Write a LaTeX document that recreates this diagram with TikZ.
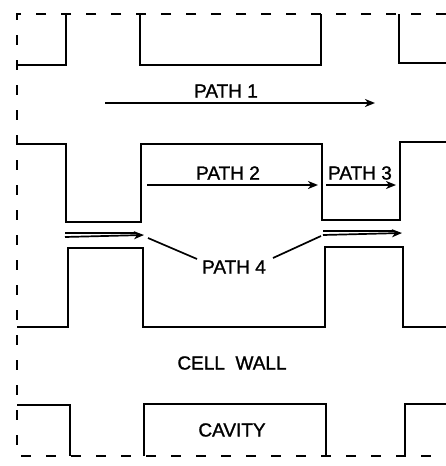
\documentclass[tikz,border=0pt]{standalone}
\usepackage{fontspec}
\setmainfont{Liberation Sans}
\newfontfamily\lblfont{Liberation Sans}[FakeBold=1.2]
\usetikzlibrary{arrows.meta}
\begin{document}
\begin{tikzpicture}[x=1pt,y=-1pt,
  wall/.style={line width=1.8pt, line join=miter},
  frame/.style={line width=1.7pt, dash pattern=on 10pt off 15pt},
  flow/.style={line width=1.7pt, -{Stealth[length=10pt,width=8pt,inset=3pt]}},
  plain/.style={line width=1.7pt},
  lbl/.style={font=\lblfont\fontsize{19}{22}\selectfont, inner sep=0pt}]
\useasboundingbox (0,0) rectangle (446,466);
% frame
\draw[frame] (446,14) -- (17,14) -- (17,456) -- (446,456);
% top row of cavities
\draw[wall] (17,65) -- (66,65) -- (66,14);
\draw[wall] (140,14) -- (140,65) -- (321,65) -- (321,14);
\draw[wall] (399,14) -- (399,63) -- (446,63);
% middle row: cavities joined by pit channels
\draw[wall] (17,144) -- (66,144) -- (66,222) -- (141,222) -- (141,144) -- (322,144) -- (322,220) -- (400,220) -- (400,142) -- (446,142);
\draw[wall] (17,327) -- (68,327) -- (68,248) -- (143,248) -- (143,327) -- (325,327) -- (325,247) -- (403,247) -- (403,327) -- (446,327);
% bottom row
\draw[wall] (17,405) -- (70,405) -- (70,456);
\draw[wall] (144,456) -- (144,404) -- (326,404) -- (326,456);
\draw[wall] (405,456) -- (405,404) -- (446,404);
% labels
\node[lbl] (p1) at (226,91) {PATH 1};
\node[lbl] (p2) at (228,173) {PATH 2};
\node[lbl] (p3) at (360,173) {PATH 3};
\node[lbl] (p4) at (234,267) {PATH 4};
\node[lbl] (cw) at (232,363) {CELL\ \ WALL};
\node[lbl] (cav) at (232,430) {CAVITY};
% path arrows
\coordinate (a1s) at (105,103); \coordinate (a1e) at (375,103);
\draw[flow] (a1s) -- (a1e);
\coordinate (a2s) at (147,185); \coordinate (a2e) at (318,185);
\draw[flow] (a2s) -- (a2e);
\coordinate (a3s) at (326,185); \coordinate (a3e) at (396,185);
\draw[flow] (a3s) -- (a3e);
% pit channel arrows (double lines)
\coordinate (l1s) at (65,233); \coordinate (l1e) at (136,233);
\coordinate (l2s) at (65,237); \coordinate (l2e) at (144,235);
\draw[plain] (l1s) -- (l1e);
\draw[flow] (l2s) -- (l2e);
\coordinate (r1s) at (323,231); \coordinate (r1e) at (394,231);
\coordinate (r2s) at (323,235); \coordinate (r2e) at (402,233);
\draw[plain] (r1s) -- (r1e);
\draw[flow] (r2s) -- (r2e);
% pointers to PATH 4
\coordinate (q1) at (148,238); \coordinate (q2) at (197,259);
\coordinate (q3) at (273,258); \coordinate (q4) at (321,236);
\draw[plain] (q1) -- (q2);
\draw[plain] (q3) -- (q4);
\end{tikzpicture}
\end{document}
